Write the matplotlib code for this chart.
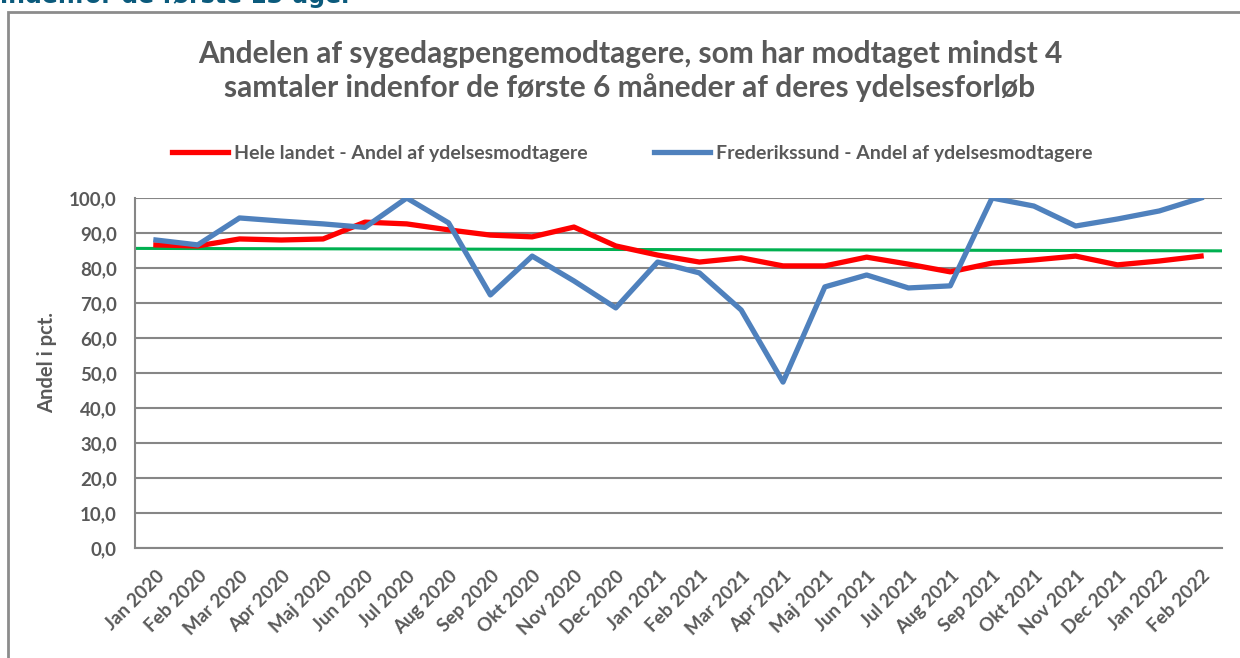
import numpy as np
import matplotlib.pyplot as plt
from matplotlib.patches import Rectangle

# months on the x axis
months = ['Jan 2020', 'Feb 2020', 'Mar 2020', 'Apr 2020', 'Maj 2020', 'Jun 2020',
          'Jul 2020', 'Aug 2020', 'Sep 2020', 'Okt 2020', 'Nov 2020', 'Dec 2020',
          'Jan 2021', 'Feb 2021', 'Mar 2021', 'Apr 2021', 'Maj 2021', 'Jun 2021',
          'Jul 2021', 'Aug 2021', 'Sep 2021', 'Okt 2021', 'Nov 2021', 'Dec 2021',
          'Jan 2022', 'Feb 2022']

# share of recipients with at least 4 talks (pct.)
hele_landet = [86.6, 86.3, 88.3, 88.0, 88.3, 93.1, 92.6, 90.9, 89.4, 88.9, 91.7, 86.3,
               83.7, 81.7, 82.9, 80.6, 80.6, 83.1, 81.1, 78.9, 81.4, 82.3, 83.4, 80.9,
               82.0, 83.4]
frederikssund = [88.0, 86.6, 94.3, 93.4, 92.6, 91.6, 100.0, 92.9, 72.3, 83.4, 76.3, 68.6,
                 81.7, 78.6, 68.0, 47.4, 74.6, 78.0, 74.3, 74.9, 100.0, 97.7, 92.0, 94.0,
                 96.3, 100.0]
# green reference line (start, end)
maal = [85.6, 84.9]

yticks = np.arange(0, 101, 10)

plt.rcParams['font.family'] = ['Lato', 'DejaVu Sans']
grey = '#595959'

fig = plt.figure(figsize=(12.4, 6.58), dpi=100)

# outer frame of the chart box
fig.patches.append(Rectangle((8 / 1240, -0.1), 1.2, 1.1 - 12 / 658,
                             transform=fig.transFigure, fill=False,
                             edgecolor='#8c8c8c', linewidth=2))

# cut-off header above the box
fig.text(0.0, 1 - 3 / 658, 'indenfor de første 13 uger', color='#0b5a7c',
         fontsize=17, fontweight='bold', va='baseline', ha='left',
         family=['DejaVu Sans'])

ax = fig.add_axes([135 / 1240, 1 - 548 / 658, (1222 - 135) / 1240, (548 - 198) / 658])

x = np.arange(len(months))
ax.plot(x, hele_landet, color='#ff0000', linewidth=3.8, solid_joinstyle='round',
        label='Hele landet - Andel af ydelsesmodtagere', zorder=3)
ax.plot(x, frederikssund, color='#4f81bd', linewidth=3.8, solid_joinstyle='round',
        label='Frederikssund - Andel af ydelsesmodtagere', zorder=4)
ax.plot([-0.5, len(months) - 0.5], maal, color='#00b050', linewidth=2.2, zorder=2)

ax.set_xlim(-0.5, len(months) - 0.5)
ax.set_ylim(0, 100)
ax.set_yticks(yticks)
ax.set_yticklabels([f'{v:.1f}'.replace('.', ',') for v in yticks],
                   fontsize=13.5, fontweight='bold', color=grey)
ax.set_xticks(x)
ax.set_xticklabels(months, rotation=45, ha='right', rotation_mode='anchor',
                   fontsize=13.5, fontweight='bold', color=grey)
ax.tick_params(axis='y', length=0, pad=13)
ax.tick_params(axis='x', length=0, pad=14)
ax.grid(axis='y', color='#868686', linewidth=1.5)
ax.set_axisbelow(True)
for s in ['top', 'right']:
    ax.spines[s].set_visible(False)
ax.spines['left'].set_color('#868686')
ax.spines['bottom'].set_color('#868686')
ax.spines['left'].set_linewidth(1.5)
ax.spines['bottom'].set_linewidth(1.5)

ax.set_ylabel('Andel i pct.', fontsize=14.5, fontweight='bold', color=grey)
ax.yaxis.set_label_coords(-0.072, 0.53)

fig.text(630 / 1240, 1 - 71 / 658,
         'Andelen af sygedagpengemodtagere, som har modtaget mindst 4\n'
         'samtaler indenfor de første 6 måneder af deres ydelsesforløb',
         ha='center', va='center', fontsize=21.5, fontweight='bold', color=grey,
         linespacing=1.25)

handles, labels = ax.get_legend_handles_labels()
fig.legend(handles, labels, loc='center', bbox_to_anchor=(632 / 1240, 1 - 153 / 658),
           ncol=2, frameon=False, prop={'weight': 'bold', 'size': 14},
           handlelength=2.9, columnspacing=3.4, handletextpad=0.3, labelcolor=grey)

fig.savefig('out.png', dpi=100)
